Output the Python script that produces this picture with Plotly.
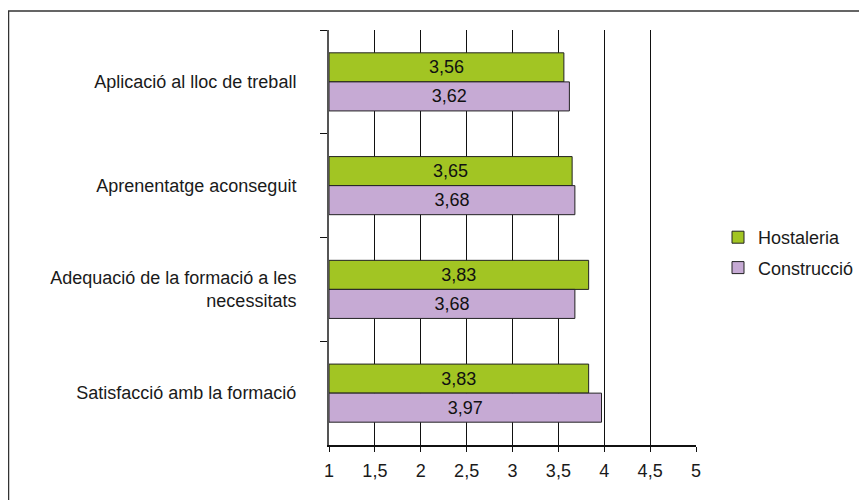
import plotly.graph_objects as go

categories = [
    "Aplicació al lloc de treball",
    "Aprenentatge aconseguit",
    "Adequació de la formació a les<br>necessitats",
    "Satisfacció amb la formació",
]
hostaleria = [3.56, 3.65, 3.83, 3.83]
construccio = [3.62, 3.68, 3.68, 3.97]
x_ticks = [1, 1.5, 2, 2.5, 3, 3.5, 4, 4.5, 5]
axis_min = 1

# page body has an 8px margin; figure coordinates = page coordinates - 8
OFF = 8
W, H = 867 - OFF, 500 - OFF
L, R, T, B = 329 - OFF, 696 - OFF, 30 - OFF, 445 - OFF

fig = go.Figure()
for name, vals, color, grp in [
    ("Hostaleria", hostaleria, "#A2C523", "h"),
    ("Construcció", construccio, "#C6AAD4", "c"),
]:
    fig.add_trace(go.Bar(
        y=categories, x=[v - axis_min for v in vals], base=axis_min,
        customdata=vals, orientation="h", name=name, legendgroup=grp,
        marker=dict(color=color, line=dict(color="#222222", width=1)),
        texttemplate="%{customdata:.2f}", textposition="inside",
        insidetextanchor="middle",
        textfont=dict(color="#111111", size=18), textangle=0,
    ))

pw = R - L
ph = B - T
fig.add_shape(
    type="rect", xref="paper", yref="paper",
    x0=(0.5 - L) / pw, x1=(W + 20 - L) / pw,
    y0=(B - (H + 20)) / ph, y1=1 + (T - (11 - OFF)) / ph,
    line=dict(color="#333333", width=1.5), fillcolor="rgba(0,0,0,0)",
    layer="below",
)

fig.update_layout(
    width=W, height=H,
    margin=dict(l=L, r=W - R, t=T, b=H - B, autoexpand=False),
    paper_bgcolor="white", plot_bgcolor="white",
    font=dict(family="Liberation Sans, Arial, sans-serif", size=18, color="#1a1a1a"),
    separators=",.",
    barmode="group", bargap=0.44, bargroupgap=0,
    showlegend=True,
    legend=dict(x=(718 - OFF - L) / pw, xanchor="left",
                y=1 - (252.5 - OFF - T) / ph, yanchor="middle",
                traceorder="grouped", tracegroupgap=4,
                font=dict(size=18), bgcolor="rgba(0,0,0,0)",
                itemwidth=30),
)
fig.update_xaxes(
    range=[1, 5], tickvals=x_ticks, tickformat=".1~f",
    showgrid=True, gridcolor="#111111", gridwidth=1,
    showline=True, linecolor="#111111", linewidth=1.5,
    ticks="outside", ticklen=5, tickcolor="#111111",
    zeroline=False, ticklabelstandoff=4,
)
fig.update_yaxes(
    categoryorder="array", categoryarray=categories, autorange="reversed",
    showline=True, linecolor="#555555", linewidth=2,
    ticks="outside", tickson="boundaries", ticklen=7, tickcolor="#111111",
    showgrid=False, zeroline=False, ticklabelstandoff=27,
)

fig.write_html("out.html")
